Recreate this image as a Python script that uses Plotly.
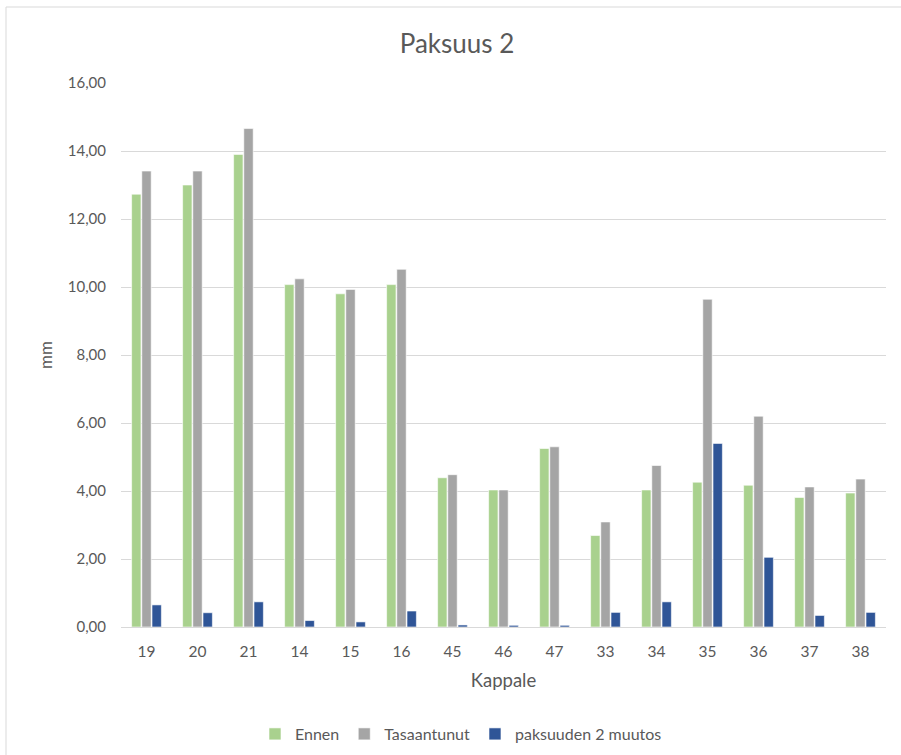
import plotly.graph_objects as go

# Sample IDs along the x axis
kappale = ["19", "20", "21", "14", "15", "16", "45", "46", "47", "33", "34", "35", "36", "37", "38"]

# Thickness 2 measurements (mm)
ennen = [12.73, 13.00, 13.90, 10.07, 9.80, 10.07, 4.39, 4.03, 5.25, 2.69, 4.03, 4.26, 4.17, 3.81, 3.94]
tasaantunut = [13.41, 13.41, 14.66, 10.24, 9.93, 10.52, 4.48, 4.03, 5.30, 3.09, 4.75, 9.64, 6.20, 4.12, 4.35]
muutos = [0.65, 0.42, 0.74, 0.19, 0.15, 0.47, 0.06, 0.05, 0.05, 0.43, 0.74, 5.40, 2.05, 0.34, 0.43]

y_ticks = [0, 2, 4, 6, 8, 10, 12, 14, 16]

FONT = "Lato"
TEXT = "#595959"
GRID = "#D9D9D9"

fig = go.Figure()
for name, vals, color in [
    ("Ennen", ennen, "#A9D18E"),
    ("Tasaantunut", tasaantunut, "#A5A5A5"),
    ("paksuuden 2 muutos", muutos, "#2F5597"),
]:
    fig.add_trace(go.Bar(
        x=kappale, y=vals, name=name,
        marker=dict(color=color, line=dict(color="white", width=0.6)),
    ))

W, H = 901, 755
ml, mr, mt, mb = 121, 15, 83, 128
pw = W - ml - mr
ph = H - mt - mb

fig.update_layout(
    width=W, height=H,
    margin=dict(l=ml, r=mr, t=mt, b=mb, autoexpand=False),
    paper_bgcolor="white", plot_bgcolor="white",
    barmode="group", bargap=0.4, bargroupgap=0.08,
    separators=",.",
    font=dict(family=FONT, color=TEXT, size=15),
    title=dict(text="Paksuus 2", x=457 / W, xanchor="center", y=1 - 44 / H, yanchor="middle",
               font=dict(family=FONT, size=26, color=TEXT)),
    xaxis=dict(
        type="category", showgrid=False,
        showline=True, linecolor=GRID, linewidth=1,
        ticks="", ticklabelstandoff=10,
        tickfont=dict(size=15.5, color=TEXT),
        title=dict(text="Kappale", font=dict(size=18.5, color=TEXT), standoff=15),
    ),
    yaxis=dict(
        range=[0, 16], tickvals=y_ticks, tickformat=".2f",
        showgrid=True, gridcolor=GRID, gridwidth=1,
        zeroline=False, showline=False, ticks="",
        ticklabelstandoff=14,
        tickfont=dict(size=15, color=TEXT),
        title=dict(text="mm", font=dict(size=17, color=TEXT), standoff=10),
    ),
    legend=dict(orientation="h", x=(461 - ml) / pw, xanchor="center",
                y=-(734 - (H - mb)) / ph, yanchor="middle",
                font=dict(size=16, color=TEXT),
                itemwidth=30, traceorder="normal"),
)

# Chart frame: left and top edges
fig.add_shape(type="line", xref="paper", yref="paper",
              x0=(6 - ml) / pw, x1=(6 - ml) / pw,
              y0=-(H + 5 - (H - mb)) / ph, y1=1 + (mt - 7) / ph,
              line=dict(color="#D9D9D9", width=1), layer="below")
fig.add_shape(type="line", xref="paper", yref="paper",
              x0=(6 - ml) / pw, x1=(W + 5 - ml) / pw,
              y0=1 + (mt - 7) / ph, y1=1 + (mt - 7) / ph,
              line=dict(color="#D9D9D9", width=1), layer="below")

fig.write_html("out.html")
